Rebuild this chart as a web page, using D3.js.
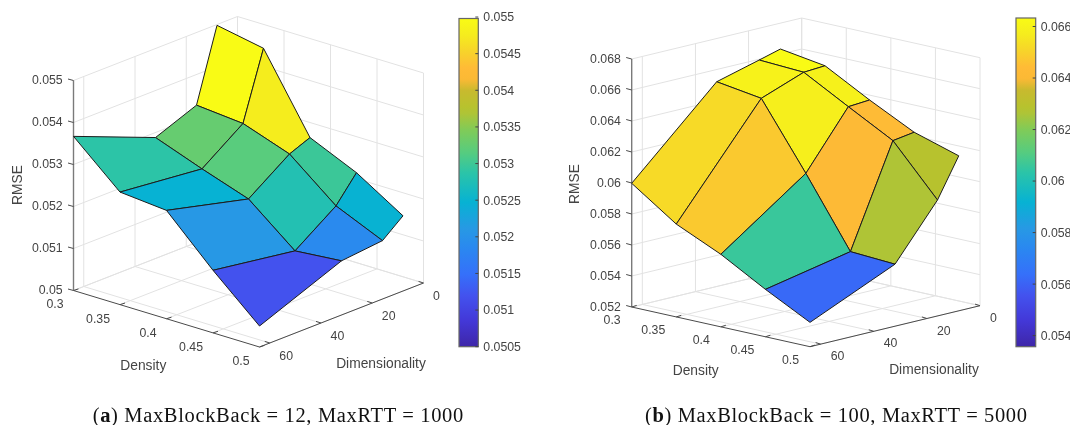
<!DOCTYPE html>
<meta charset="utf-8">
<title>RMSE surfaces</title>
<style>
  html, body { margin: 0; padding: 0; background: #fff; }
  svg { display: block; filter: blur(0.3px); }
  text { font-family: "Liberation Sans", Arial, sans-serif; fill: #444; }
  .tick { font-size: 12.3px; }
  .label { font-size: 13.8px; }
  .caption { font-family: "Liberation Serif", serif; font-size: 20.5px; fill: #111; }
  .grid { stroke: #e2e2e2; stroke-width: 1; fill: none; }
</style>
<body>
<svg width="1070" height="425"></svg>
<script src="https://d3js.org/d3.v7.min.js"></script>
<script>
// grid of the sweep
var densities = [0.3, 0.35, 0.4, 0.45, 0.5];
var dims = [8, 16, 32, 64];
var densityTicks = [0.3, 0.35, 0.4, 0.45, 0.5];
var dimTicks = [0, 20, 40, 60];

// RMSE, one row per density, columns follow dims
var rmseA = [
  [0.05498, 0.05327, 0.05288, 0.05367],
  [0.05477, 0.05317, 0.05247, 0.05268],
  [0.05298, 0.05278, 0.05209, 0.05258],
  [0.05248, 0.05188, 0.05119, 0.05149],
  [0.05179, 0.05139, 0.05129, 0.05050]
];
var rmseB = [
  [0.06633, 0.06595, 0.06521, 0.05998],
  [0.06589, 0.06580, 0.06478, 0.05799],
  [0.06432, 0.06422, 0.06058, 0.05668],
  [0.06288, 0.06267, 0.05617, 0.05506],
  [0.06200, 0.05948, 0.05600, 0.05357]
];

var zTicksA = [0.05, 0.051, 0.052, 0.053, 0.054, 0.055];
var zTicksB = [0.052, 0.054, 0.056, 0.058, 0.06, 0.062, 0.064, 0.066, 0.068];
var barTicksA = [0.0505, 0.051, 0.0515, 0.052, 0.0525, 0.053, 0.0535, 0.054, 0.0545, 0.055];
var barTicksB = [0.054, 0.056, 0.058, 0.06, 0.062, 0.064, 0.066];

// parula, hand sampled from the colorbars
var parulaStops = [0, 0.08, 0.155, 0.22, 0.3, 0.36, 0.44, 0.53, 0.59, 0.66, 0.71, 0.73, 0.78, 0.815, 0.85, 0.9, 0.95, 1];
var parulaColors = ["#3e26a8", "#4338d8", "#4352ee", "#3570fa", "#2a88f0", "#2799e4", "#07b2d3", "#2bc4a8",
  "#55cc80", "#80cb58", "#aec437", "#b7c22e", "#c8ba2e", "#fbb935", "#ffbb36", "#f7d42a", "#f5ec1e", "#f9fb15"];
var parula = d3.scaleLinear().domain(parulaStops).range(parulaColors).interpolate(d3.interpolateRgb);

var svg = d3.select("svg");
var defs = svg.append("defs");

function fmt(v) { return String(+v.toFixed(4)); }

function drawPanel(p) {
  var g = svg.append("g");

  // orthographic view: screen position is the sum of three axis scales
  var dx = d3.scaleLinear().domain([0.3, 0.5]).range([0, p.dVec[0]]);
  var dy = d3.scaleLinear().domain([0.3, 0.5]).range([0, p.dVec[1]]);
  var nx = d3.scaleLinear().domain([64, 0]).range([0, p.nVec[0]]);
  var ny = d3.scaleLinear().domain([64, 0]).range([0, p.nVec[1]]);
  var zy = d3.scaleLinear().domain(p.zDomain).range([0, -p.zHeight]);
  function project(d, n, z) {
    return [p.origin[0] + dx(d) + nx(n), p.origin[1] + dy(d) + ny(n) + zy(z)];
  }
  function seg(a, b, cls) {
    g.append("line").attr("class", cls).attr("x1", a[0]).attr("y1", a[1]).attr("x2", b[0]).attr("y2", b[1]);
  }

  var z0 = p.zDomain[0], z1 = p.zDomain[1];

  // back walls and floor
  p.zTicks.forEach(function (z) {
    seg(project(0.3, 64, z), project(0.3, 0, z), "grid");
    seg(project(0.3, 0, z), project(0.5, 0, z), "grid");
  });
  densityTicks.forEach(function (d) {
    seg(project(d, 0, z0), project(d, 0, z1), "grid");
    seg(project(d, 0, z0), project(d, 64, z0), "grid");
  });
  dimTicks.forEach(function (n) {
    seg(project(0.3, n, z0), project(0.3, n, z1), "grid");
    seg(project(0.3, n, z0), project(0.5, n, z0), "grid");
  });

  // axes
  var zA = project(0.3, 64, z0), zB = project(0.3, 64, z1);
  g.append("line").attr("x1", zA[0]).attr("y1", zA[1]).attr("x2", zB[0]).attr("y2", zB[1])
    .attr("stroke", "#7a7a7a").attr("stroke-width", 1.4);
  [[project(0.3, 64, z0), project(0.5, 64, z0)], [project(0.5, 64, z0), project(0.5, 0, z0)]].forEach(function (s) {
    g.append("line").attr("x1", s[0][0]).attr("y1", s[0][1]).attr("x2", s[1][0]).attr("y2", s[1][1])
      .attr("stroke", "#4a4a4a").attr("stroke-width", 1);
  });

  function tick(a, ox, oy) {
    g.append("line").attr("x1", a[0]).attr("y1", a[1]).attr("x2", a[0] + ox).attr("y2", a[1] + oy)
      .attr("stroke", "#4a4a4a").attr("stroke-width", 1);
  }

  p.zTicks.forEach(function (z) {
    var a = project(0.3, 64, z);
    tick(a, -5.5, -1.5);
    g.append("text").attr("class", "tick").attr("x", a[0] - 10.8).attr("y", a[1] + 3.6)
      .attr("text-anchor", "end").text(fmt(z));
  });
  densityTicks.forEach(function (d) {
    var a = project(d, 64, z0);
    tick(a, 5, -1.6);
    g.append("text").attr("class", "tick").attr("x", a[0] - p.dLabel[0]).attr("y", a[1] + p.dLabel[1] + 4.4)
      .attr("text-anchor", "end").text(fmt(d));
  });
  dimTicks.forEach(function (n) {
    var a = project(0.5, n, z0);
    tick(a, -5, -1.6);
    g.append("text").attr("class", "tick").attr("x", a[0] + p.nLabel[0]).attr("y", a[1] + p.nLabel[1] + 4.4)
      .text(n);
  });

  g.append("text").attr("class", "label").attr("text-anchor", "middle")
    .attr("x", p.densityAt[0]).attr("y", p.densityAt[1]).text("Density");
  g.append("text").attr("class", "label").attr("text-anchor", "middle")
    .attr("x", p.dimAt[0]).attr("y", p.dimAt[1]).text("Dimensionality");
  g.append("text").attr("class", "label").attr("text-anchor", "middle")
    .attr("transform", "translate(" + p.rmseAt[0] + "," + p.rmseAt[1] + ") rotate(-90)").text("RMSE");

  // surface, painted back to front. MATLAB colours a face from its first vertex
  var flat = d3.merge(p.values);
  var clim = d3.extent(flat);
  var frac = d3.scaleLinear().domain(clim).range([0, 1]);
  for (var i = 0; i < densities.length - 1; i++) {
    for (var j = 0; j < dims.length - 1; j++) {
      var pts = [
        project(densities[i], dims[j], p.values[i][j]),
        project(densities[i], dims[j + 1], p.values[i][j + 1]),
        project(densities[i + 1], dims[j + 1], p.values[i + 1][j + 1]),
        project(densities[i + 1], dims[j], p.values[i + 1][j])
      ];
      g.append("polygon").attr("points", pts.map(function (q) { return q.join(","); }).join(" "))
        .attr("fill", parula(frac(p.values[i][j])))
        .attr("stroke", "#1c1c1c").attr("stroke-width", 1).attr("stroke-linejoin", "round");
    }
  }

  // colorbar
  var grad = defs.append("linearGradient").attr("id", "bar" + p.id)
    .attr("x1", 0).attr("y1", 1).attr("x2", 0).attr("y2", 0);
  parulaStops.forEach(function (s, k) {
    grad.append("stop").attr("offset", s).attr("stop-color", parulaColors[k]);
  });
  var barY = d3.scaleLinear().domain(clim).range([p.bar.bottom, p.bar.top]);
  g.append("rect").attr("x", p.bar.left).attr("y", p.bar.top)
    .attr("width", p.bar.width).attr("height", p.bar.bottom - p.bar.top)
    .attr("fill", "url(#bar" + p.id + ")").attr("stroke", "#666").attr("stroke-width", 1.2);
  p.barTicks.forEach(function (v) {
    var y = barY(v);
    g.append("line").attr("x1", p.bar.left + p.bar.width - 3).attr("x2", p.bar.left + p.bar.width)
      .attr("y1", y).attr("y2", y).attr("stroke", "#444");
    g.append("text").attr("class", "tick").attr("x", p.bar.left + p.bar.width + 5).attr("y", y + 4.4).text(fmt(v));
  });

  // caption
  var cap = svg.append("text").attr("class", "caption")
    .attr("x", p.caption.x).attr("y", 422)
    .attr("textLength", p.caption.width).attr("lengthAdjust", "spacing");
  cap.append("tspan").text("(");
  cap.append("tspan").attr("font-weight", "bold").text(p.id);
  cap.append("tspan").text(") " + p.caption.text);
}

drawPanel({
  id: "a", values: rmseA, zDomain: [0.05, 0.055], zTicks: zTicksA, barTicks: barTicksA,
  origin: [73.5, 290.5], dVec: [186, 56.5], nVec: [164, -64], zHeight: 210,
  dLabel: [10, 13.5], nLabel: [9.6, 12.5],
  densityAt: [143.3, 370], dimAt: [381, 368], rmseAt: [22, 185],
  bar: { left: 459, width: 19.3, top: 18.5, bottom: 346.7 },
  caption: { x: 92.7, width: 370.5, text: "MaxBlockBack = 12, MaxRTT = 1000" }
});

drawPanel({
  id: "b", values: rmseB, zDomain: [0.052, 0.068], zTicks: zTicksB, barTicks: barTicksB,
  origin: [631.7, 307], dVec: [178.3, 39.7], nVec: [170, -41], zHeight: 248,
  dLabel: [11, 13], nLabel: [10, 11.6],
  densityAt: [695.7, 375], dimAt: [934, 374], rmseAt: [579, 184],
  bar: { left: 1016, width: 19.7, top: 18, bottom: 346.7 },
  caption: { x: 645, width: 382, text: "MaxBlockBack = 100, MaxRTT = 5000" }
});
</script>
</body>
